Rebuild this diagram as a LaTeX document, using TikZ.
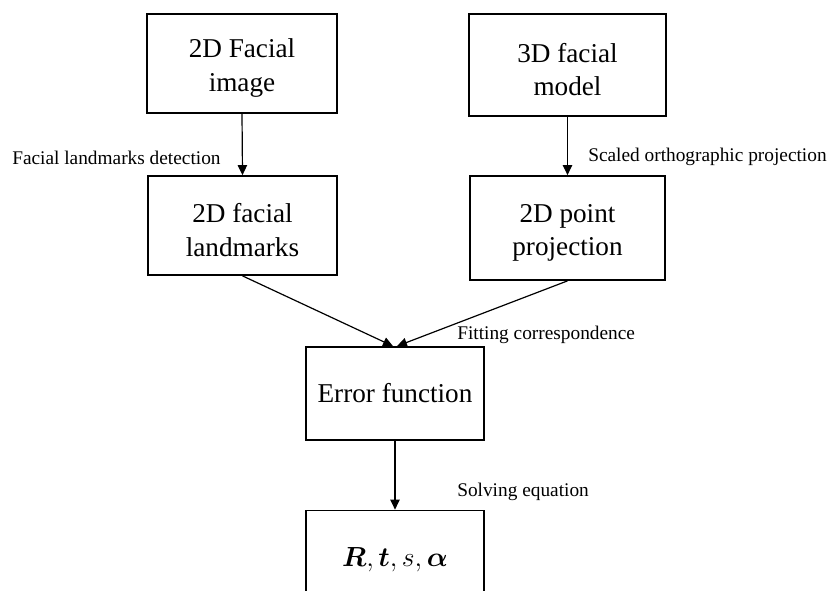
\documentclass[tikz,border=0pt]{standalone}
\usepackage{fontspec}
\usepackage{amsmath,bm}
\setmainfont{Liberation Serif}
\usetikzlibrary{arrows.meta}
\begin{document}
\begin{tikzpicture}[x=0.75pt,y=-0.75pt,
  box/.style={draw=black,line width=1.3pt,inner sep=0pt,align=center,
    font=\fontsize{20.4}{25}\selectfont},
  lbl/.style={anchor=west,inner sep=0pt,font=\fontsize{14.5}{17}\selectfont},
  arr/.style={draw=black,line width=0.9pt,-{Triangle[length=7.5pt,width=7pt]}}]
\clip (0,0) rectangle (830,590);
\node[box,minimum width=142.5pt,minimum height=74.25pt] (b1) at (242,63.5) {\\[-4pt]2D Facial\\image};
\node[box,minimum width=147.75pt,minimum height=76.5pt] (b2) at (567.5,65) {\\[-4pt]3D facial\\model};
\node[box,minimum width=141.75pt,minimum height=74.25pt] (b3) at (242.5,225.5) {\\[-4pt]2D facial\\landmarks};
\node[box,minimum width=146.25pt,minimum height=78pt] (b4) at (567.5,228) {\\[-4pt]2D point\\projection};
\node[box,minimum width=133.5pt,minimum height=69.75pt] (b5) at (395,393.5) {Error function};
\node[box,minimum width=133.5pt,minimum height=74.25pt,font=\fontsize{19.5}{23}\selectfont] (b6) at (395,560) {$\boldsymbol{R}, \boldsymbol{t}, s, \boldsymbol{\alpha}$};
\draw[arr] (b1.south) -- (b3.north);
\draw[arr] (b2.south) -- (b4.north);
\draw[arr] (b3.south) -- ([xshift=-1.5pt]b5.north);
\draw[arr] (b4.south) -- ([xshift=1.5pt]b5.north);
\draw[arr] (b5.south) -- (b6.north);
\node[lbl] (l1) at (12,158) {Facial landmarks detection};
\node[lbl] (l2) at (588,157) {Scaled orthographic projection};
\node[lbl] (l3) at (457,335) {Fitting correspondence};
\node[lbl] (l4) at (457,492) {Solving equation};
\end{tikzpicture}
\end{document}
